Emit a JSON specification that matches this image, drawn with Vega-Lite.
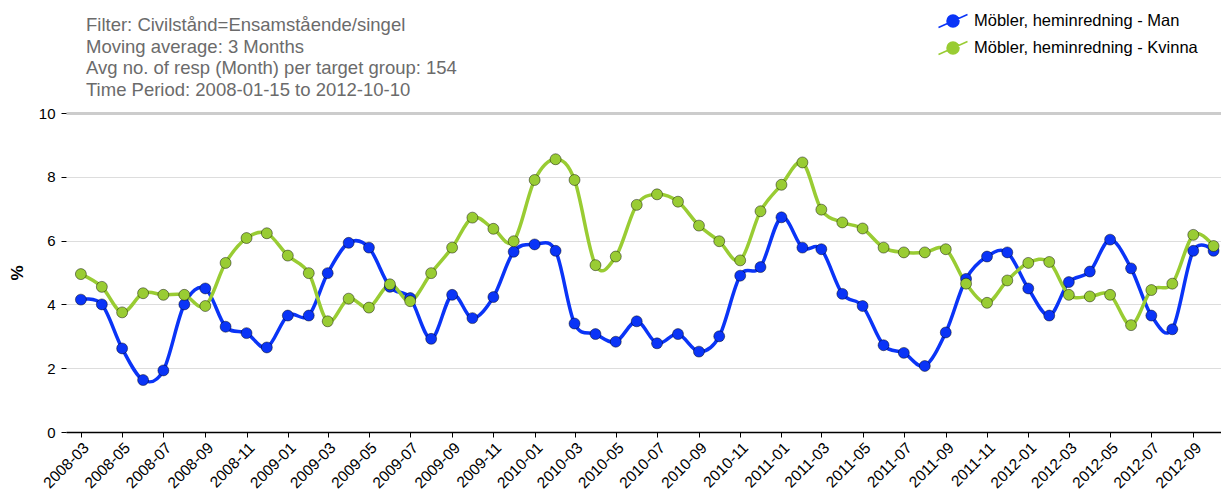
{
  "$schema": "https://vega.github.io/schema/vega-lite/v6.json",
  "width": 1155,
  "height": 319,
  "autosize": "none",
  "padding": {"left": 66, "top": 113, "right": 0, "bottom": 65},
  "background": "white",
  "config": {
    "font": "Liberation Sans",
    "view": {"stroke": null}
  },
  "title": {
    "text": ["Filter: Civilstånd=Ensamstående/singel", "Moving average: 3 Months", "Avg no. of resp (Month) per target group: 154", "Time Period: 2008-01-15 to 2012-10-10"],
    "anchor": "start",
    "frame": "group",
    "fontSize": 18.5,
    "fontWeight": "normal",
    "lineHeight": 21.5,
    "color": "#6b6b6b",
    "dx": 20,
    "dy": 105,
    "offset": 16
  },
  "datasets": {
    "d": [
      {"month": "2008-03-01", "series": "Möbler, heminredning - Man", "value": 4.15},
      {"month": "2008-04-01", "series": "Möbler, heminredning - Man", "value": 4.0},
      {"month": "2008-05-01", "series": "Möbler, heminredning - Man", "value": 2.62},
      {"month": "2008-06-01", "series": "Möbler, heminredning - Man", "value": 1.63},
      {"month": "2008-07-01", "series": "Möbler, heminredning - Man", "value": 1.93},
      {"month": "2008-08-01", "series": "Möbler, heminredning - Man", "value": 4.0},
      {"month": "2008-09-01", "series": "Möbler, heminredning - Man", "value": 4.5},
      {"month": "2008-10-01", "series": "Möbler, heminredning - Man", "value": 3.3},
      {"month": "2008-11-01", "series": "Möbler, heminredning - Man", "value": 3.1},
      {"month": "2008-12-01", "series": "Möbler, heminredning - Man", "value": 2.65},
      {"month": "2009-01-01", "series": "Möbler, heminredning - Man", "value": 3.65},
      {"month": "2009-02-01", "series": "Möbler, heminredning - Man", "value": 3.65},
      {"month": "2009-03-01", "series": "Möbler, heminredning - Man", "value": 4.98},
      {"month": "2009-04-01", "series": "Möbler, heminredning - Man", "value": 5.93},
      {"month": "2009-05-01", "series": "Möbler, heminredning - Man", "value": 5.78},
      {"month": "2009-06-01", "series": "Möbler, heminredning - Man", "value": 4.55},
      {"month": "2009-07-01", "series": "Möbler, heminredning - Man", "value": 4.2},
      {"month": "2009-08-01", "series": "Möbler, heminredning - Man", "value": 2.92},
      {"month": "2009-09-01", "series": "Möbler, heminredning - Man", "value": 4.3},
      {"month": "2009-10-01", "series": "Möbler, heminredning - Man", "value": 3.57},
      {"month": "2009-11-01", "series": "Möbler, heminredning - Man", "value": 4.23},
      {"month": "2009-12-01", "series": "Möbler, heminredning - Man", "value": 5.65},
      {"month": "2010-01-01", "series": "Möbler, heminredning - Man", "value": 5.88},
      {"month": "2010-02-01", "series": "Möbler, heminredning - Man", "value": 5.68},
      {"month": "2010-03-01", "series": "Möbler, heminredning - Man", "value": 3.4},
      {"month": "2010-04-01", "series": "Möbler, heminredning - Man", "value": 3.07},
      {"month": "2010-05-01", "series": "Möbler, heminredning - Man", "value": 2.83},
      {"month": "2010-06-01", "series": "Möbler, heminredning - Man", "value": 3.47},
      {"month": "2010-07-01", "series": "Möbler, heminredning - Man", "value": 2.78},
      {"month": "2010-08-01", "series": "Möbler, heminredning - Man", "value": 3.07},
      {"month": "2010-09-01", "series": "Möbler, heminredning - Man", "value": 2.52},
      {"month": "2010-10-01", "series": "Möbler, heminredning - Man", "value": 3.0},
      {"month": "2010-11-01", "series": "Möbler, heminredning - Man", "value": 4.9},
      {"month": "2010-12-01", "series": "Möbler, heminredning - Man", "value": 5.17},
      {"month": "2011-01-01", "series": "Möbler, heminredning - Man", "value": 6.73},
      {"month": "2011-02-01", "series": "Möbler, heminredning - Man", "value": 5.78},
      {"month": "2011-03-01", "series": "Möbler, heminredning - Man", "value": 5.73},
      {"month": "2011-04-01", "series": "Möbler, heminredning - Man", "value": 4.33},
      {"month": "2011-05-01", "series": "Möbler, heminredning - Man", "value": 3.95},
      {"month": "2011-06-01", "series": "Möbler, heminredning - Man", "value": 2.72},
      {"month": "2011-07-01", "series": "Möbler, heminredning - Man", "value": 2.48},
      {"month": "2011-08-01", "series": "Möbler, heminredning - Man", "value": 2.07},
      {"month": "2011-09-01", "series": "Möbler, heminredning - Man", "value": 3.12},
      {"month": "2011-10-01", "series": "Möbler, heminredning - Man", "value": 4.8},
      {"month": "2011-11-01", "series": "Möbler, heminredning - Man", "value": 5.5},
      {"month": "2011-12-01", "series": "Möbler, heminredning - Man", "value": 5.63},
      {"month": "2012-01-01", "series": "Möbler, heminredning - Man", "value": 4.5},
      {"month": "2012-02-01", "series": "Möbler, heminredning - Man", "value": 3.65},
      {"month": "2012-03-01", "series": "Möbler, heminredning - Man", "value": 4.7},
      {"month": "2012-04-01", "series": "Möbler, heminredning - Man", "value": 5.03},
      {"month": "2012-05-01", "series": "Möbler, heminredning - Man", "value": 6.03},
      {"month": "2012-06-01", "series": "Möbler, heminredning - Man", "value": 5.13},
      {"month": "2012-07-01", "series": "Möbler, heminredning - Man", "value": 3.65},
      {"month": "2012-08-01", "series": "Möbler, heminredning - Man", "value": 3.22},
      {"month": "2012-09-01", "series": "Möbler, heminredning - Man", "value": 5.68},
      {"month": "2012-10-01", "series": "Möbler, heminredning - Man", "value": 5.68},
      {"month": "2008-03-01", "series": "Möbler, heminredning - Kvinna", "value": 4.95},
      {"month": "2008-04-01", "series": "Möbler, heminredning - Kvinna", "value": 4.55},
      {"month": "2008-05-01", "series": "Möbler, heminredning - Kvinna", "value": 3.75},
      {"month": "2008-06-01", "series": "Möbler, heminredning - Kvinna", "value": 4.35},
      {"month": "2008-07-01", "series": "Möbler, heminredning - Kvinna", "value": 4.3},
      {"month": "2008-08-01", "series": "Möbler, heminredning - Kvinna", "value": 4.3},
      {"month": "2008-09-01", "series": "Möbler, heminredning - Kvinna", "value": 3.95},
      {"month": "2008-10-01", "series": "Möbler, heminredning - Kvinna", "value": 5.3},
      {"month": "2008-11-01", "series": "Möbler, heminredning - Kvinna", "value": 6.08},
      {"month": "2008-12-01", "series": "Möbler, heminredning - Kvinna", "value": 6.23},
      {"month": "2009-01-01", "series": "Möbler, heminredning - Kvinna", "value": 5.53},
      {"month": "2009-02-01", "series": "Möbler, heminredning - Kvinna", "value": 4.98},
      {"month": "2009-03-01", "series": "Möbler, heminredning - Kvinna", "value": 3.47},
      {"month": "2009-04-01", "series": "Möbler, heminredning - Kvinna", "value": 4.18},
      {"month": "2009-05-01", "series": "Möbler, heminredning - Kvinna", "value": 3.9},
      {"month": "2009-06-01", "series": "Möbler, heminredning - Kvinna", "value": 4.63},
      {"month": "2009-07-01", "series": "Möbler, heminredning - Kvinna", "value": 4.1},
      {"month": "2009-08-01", "series": "Möbler, heminredning - Kvinna", "value": 4.98},
      {"month": "2009-09-01", "series": "Möbler, heminredning - Kvinna", "value": 5.78},
      {"month": "2009-10-01", "series": "Möbler, heminredning - Kvinna", "value": 6.72},
      {"month": "2009-11-01", "series": "Möbler, heminredning - Kvinna", "value": 6.37},
      {"month": "2009-12-01", "series": "Möbler, heminredning - Kvinna", "value": 5.98},
      {"month": "2010-01-01", "series": "Möbler, heminredning - Kvinna", "value": 7.9},
      {"month": "2010-02-01", "series": "Möbler, heminredning - Kvinna", "value": 8.55},
      {"month": "2010-03-01", "series": "Möbler, heminredning - Kvinna", "value": 7.9},
      {"month": "2010-04-01", "series": "Möbler, heminredning - Kvinna", "value": 5.23},
      {"month": "2010-05-01", "series": "Möbler, heminredning - Kvinna", "value": 5.5},
      {"month": "2010-06-01", "series": "Möbler, heminredning - Kvinna", "value": 7.12},
      {"month": "2010-07-01", "series": "Möbler, heminredning - Kvinna", "value": 7.45},
      {"month": "2010-08-01", "series": "Möbler, heminredning - Kvinna", "value": 7.22},
      {"month": "2010-09-01", "series": "Möbler, heminredning - Kvinna", "value": 6.47},
      {"month": "2010-10-01", "series": "Möbler, heminredning - Kvinna", "value": 5.98},
      {"month": "2010-11-01", "series": "Möbler, heminredning - Kvinna", "value": 5.38},
      {"month": "2010-12-01", "series": "Möbler, heminredning - Kvinna", "value": 6.92},
      {"month": "2011-01-01", "series": "Möbler, heminredning - Kvinna", "value": 7.75},
      {"month": "2011-02-01", "series": "Möbler, heminredning - Kvinna", "value": 8.45},
      {"month": "2011-03-01", "series": "Möbler, heminredning - Kvinna", "value": 6.97},
      {"month": "2011-04-01", "series": "Möbler, heminredning - Kvinna", "value": 6.57},
      {"month": "2011-05-01", "series": "Möbler, heminredning - Kvinna", "value": 6.38},
      {"month": "2011-06-01", "series": "Möbler, heminredning - Kvinna", "value": 5.78},
      {"month": "2011-07-01", "series": "Möbler, heminredning - Kvinna", "value": 5.63},
      {"month": "2011-08-01", "series": "Möbler, heminredning - Kvinna", "value": 5.63},
      {"month": "2011-09-01", "series": "Möbler, heminredning - Kvinna", "value": 5.73},
      {"month": "2011-10-01", "series": "Möbler, heminredning - Kvinna", "value": 4.65},
      {"month": "2011-11-01", "series": "Möbler, heminredning - Kvinna", "value": 4.05},
      {"month": "2011-12-01", "series": "Möbler, heminredning - Kvinna", "value": 4.75},
      {"month": "2012-01-01", "series": "Möbler, heminredning - Kvinna", "value": 5.3},
      {"month": "2012-02-01", "series": "Möbler, heminredning - Kvinna", "value": 5.33},
      {"month": "2012-03-01", "series": "Möbler, heminredning - Kvinna", "value": 4.3},
      {"month": "2012-04-01", "series": "Möbler, heminredning - Kvinna", "value": 4.25},
      {"month": "2012-05-01", "series": "Möbler, heminredning - Kvinna", "value": 4.3},
      {"month": "2012-06-01", "series": "Möbler, heminredning - Kvinna", "value": 3.35},
      {"month": "2012-07-01", "series": "Möbler, heminredning - Kvinna", "value": 4.45},
      {"month": "2012-08-01", "series": "Möbler, heminredning - Kvinna", "value": 4.65},
      {"month": "2012-09-01", "series": "Möbler, heminredning - Kvinna", "value": 6.18},
      {"month": "2012-10-01", "series": "Möbler, heminredning - Kvinna", "value": 5.83}
    ]
  },
  "data": {"name": "d"},
  "encoding": {
    "x": {
      "field": "month",
      "type": "temporal",
      "scale": {"domain": ["2008-02-08", "2012-10-12"]},
      "axis": {
        "title": null,
        "format": "%Y-%m",
        "tickCount": {"interval": "month", "step": 2},
        "labelAngle": -45,
        "labelAlign": "right",
        "labelBaseline": "top",
        "labelFontSize": 15.5,
        "labelColor": "#000",
        "labelPadding": 3,
        "labelOverlap": false,
        "labelFlush": false,
        "grid": false,
        "domainColor": "#000",
        "domainWidth": 1.5,
        "tickColor": "#000",
        "tickSize": 5
      }
    },
    "y": {
      "field": "value",
      "type": "quantitative",
      "scale": {"domain": [0, 10], "nice": false},
      "axis": {
        "title": "%",
        "titleFontSize": 17,
        "titleFontWeight": "bold",
        "titleColor": "#000",
        "titlePadding": 12,
        "values": [0, 2, 4, 6, 8, 10],
        "labelFontSize": 15,
        "labelColor": "#000",
        "labelPadding": 6,
        "domain": false,
        "tickColor": "#000",
        "tickSize": 5,
        "gridColor": {"condition": {"test": "datum.value == 10", "value": "#cccccc"}, "value": "#dddddd"},
        "gridWidth": {"condition": {"test": "datum.value == 10", "value": 3}, "value": 1.2}
      }
    },
    "color": {
      "field": "series",
      "type": "nominal",
      "sort": ["Möbler, heminredning - Man", "Möbler, heminredning - Kvinna"],
      "scale": {"domain": ["Möbler, heminredning - Man", "Möbler, heminredning - Kvinna"], "range": ["#0a34f7", "#99cc33"]},
      "legend": {
        "title": null,
        "orient": "none",
        "legendX": 876,
        "legendY": -103,
        "labelFontSize": 16.5,
        "labelColor": "#000",
        "labelLimit": 0,
        "labelOffset": 10,
        "rowPadding": 6,
        "symbolSize": 400,
        "symbolType": "M-1.45,0.65L1.45,-0.65M0.6,0A0.6,0.6,0,1,1,-0.6,0A0.6,0.6,0,1,1,0.6,0Z",
        "symbolStrokeWidth": 1.5,
        "symbolOpacity": 1
      }
    }
  },
  "layer": [
    {
      "mark": {"type": "line", "interpolate": "cardinal", "strokeWidth": 3.5}
    },
    {
      "mark": {"type": "point", "filled": true, "size": 120, "opacity": 1, "stroke": "#000", "strokeOpacity": 0.45, "strokeWidth": 1}
    }
  ]
}
